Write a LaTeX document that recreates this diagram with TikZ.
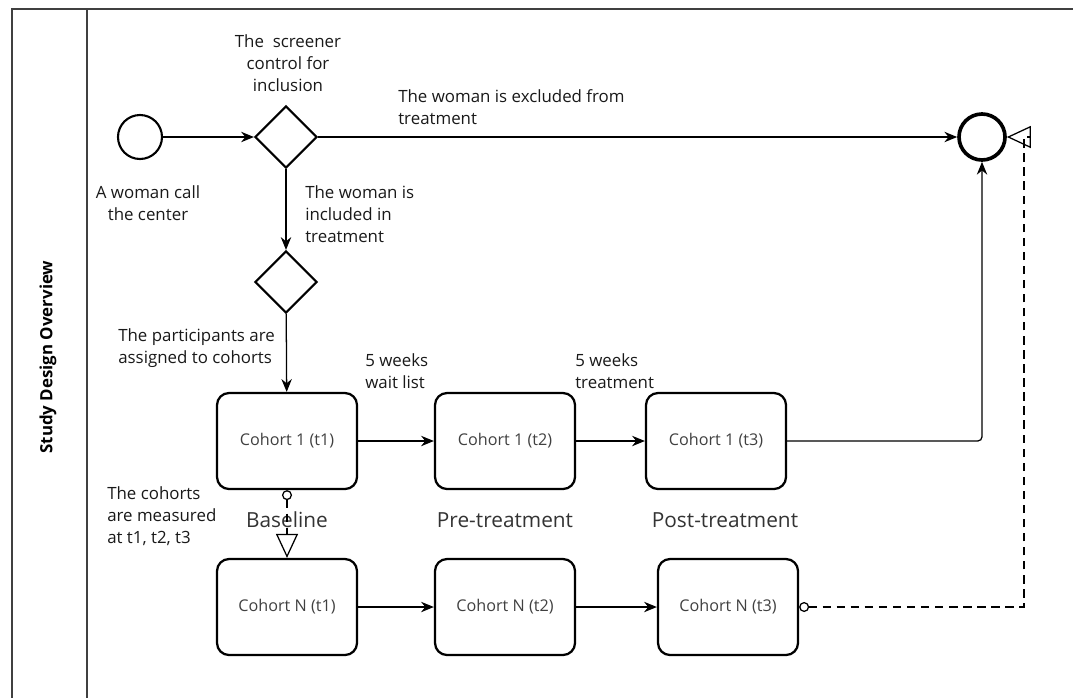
\documentclass[tikz,border=0pt]{standalone}
\usepackage{fontspec}
\setmainfont{Open Sans}
\usetikzlibrary{shapes.geometric,arrows.meta}

\tikzset{
  event/.style={draw, circle, line width=1.5pt, minimum size=1.1cm, inner sep=0pt},
  endevent/.style={draw, circle, line width=2.6pt, minimum size=1.15cm, inner sep=0pt},
  gateway/.style={draw, diamond, line width=1.5pt, minimum size=1.55cm, inner sep=0pt},
  cohort/.style={draw, rectangle, rounded corners=0.3cm, line width=1.6pt, minimum width=3.5cm,
    minimum height=2.4cm, text=black!75, font=\fontsize{11.5}{13}\selectfont},
  lbl/.style={align=left, inner sep=0pt, text=black!90, font=\fontsize{12}{15.6}\selectfont},
  phase/.style={inner sep=0pt, text=black!80, font=\fontsize{14.8}{17}\selectfont},
  flow/.style={-{Stealth[length=0.32cm,width=0.26cm]}, line width=0.9pt},
  msgflow/.style={dashed, dash pattern=on 6pt off 4pt, line width=0.9pt,
    {Circle[open,length=0.25cm]}-{Triangle[open,length=0.6cm,width=0.55cm]}},
}

\begin{document}
\begin{tikzpicture}
			\useasboundingbox (0,0) rectangle (26.825,-17.45);
			
			%Lane
			\draw[line width=1.2pt, black!75] (26.825,-0.225) -- (0.3,-0.225) -- (0.3,-17.45);
			\draw[line width=1.2pt, black!75] (2.175,-0.225) -- (2.175,-17.45);
			\node (lane) at (1.2,-8.925) [rotate=90, font=\bfseries\fontsize{12}{14}\selectfont]{Study Design Overview};
			
			%Events and gateways
			\node (startEv) at (3.5,-3.425) [event]{};
			\node (screener) at (7.15,-3.425) [gateway]{};
			\node (assign) at (7.15,-7.05) [gateway]{};
			\node (endEv) at (24.55,-3.425) [endevent]{};
			
			%Cohorts
			\node (cohortA1) at (7.175,-11.025) [cohort]{Cohort 1 (t1)};
			\node (cohortA2) at (12.625,-11.025) [cohort]{Cohort 1 (t2)};
			\node (cohortA3) at (17.9,-11.025) [cohort]{Cohort 1 (t3)};
			\node (cohortN1) at (7.175,-15.175) [cohort]{Cohort N (t1)};
			\node (cohortN2) at (12.625,-15.175) [cohort]{Cohort N (t2)};
			\node (cohortN3) at (18.2,-15.175) [cohort]{Cohort N (t3)};
			
			%Texts
			\node (screenerTxt) at (7.2,-1.575) [lbl, align=center]{The~~screener\\control for\\inclusion};
			\node (startTxt) at (3.7,-5.075) [lbl, align=center]{A woman call\\the center};
			\node (excludedTxt) at (9.95,-2.675) [lbl, anchor=west]{The woman is excluded from\\treatment};
			\node (includedTxt) at (7.625,-5.35) [lbl, anchor=west]{The woman is\\included in\\treatment};
			\node (assignTxt) at (2.95,-8.7) [lbl, anchor=west]{The participants are\\assigned to cohorts};
			\node (waitTxt) at (9.125,-9.275) [lbl, anchor=west]{5 weeks\\wait list};
			\node (treatTxt) at (14.375,-9.275) [lbl, anchor=west]{5 weeks\\treatment};
			\node (measureTxt) at (2.675,-12.9) [lbl, anchor=west]{The cohorts\\are measured\\at t1, t2, t3};
			
			%Phases
			\node (baseline) at (7.175,-13.0) [phase]{Baseline};
			\node (pretreat) at (12.625,-13.0) [phase]{Pre-treatment};
			\node (posttreat) at (18.125,-13.0) [phase]{Post-treatment};
			
			%Flows
			\draw[flow] (startEv) -- (screener);
			\draw[flow] (screener) -- (endEv);
			\draw[flow] (screener) -- (assign);
			\draw[flow] (assign) -- (cohortA1);
			\draw[flow] (cohortA1) -- (cohortA2);
			\draw[flow] (cohortA2) -- (cohortA3);
			\draw[flow, rounded corners=3pt] (cohortA3) -| (endEv);
			\draw[flow] (cohortN1) -- (cohortN2);
			\draw[flow] (cohortN2) -- (cohortN3);
			
			%Message flows
			\coordinate (msgTurn) at (25.6,-3.425);
			\draw[msgflow] (cohortA1) -- (cohortN1);
			\draw[msgflow] (cohortN3) -| (msgTurn) -- (endEv);
			
\end{tikzpicture}
\end{document}
